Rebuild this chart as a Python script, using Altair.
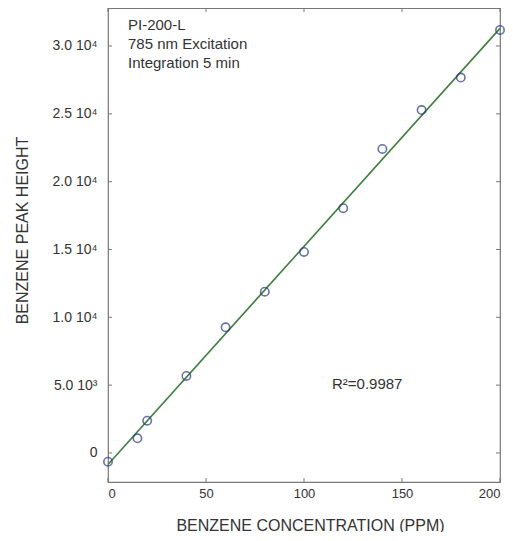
import altair as alt
import pandas as pd

conc = [0, 15, 20, 40, 60, 80, 100, 120, 140, 160, 180, 200]
peak = [-640, 1080, 2380, 5680, 9260, 11890, 14820, 18040, 22410, 25280, 27670, 31180]
x_ticks = [0, 50, 100, 150, 200]
y_ticks = [0, 5000, 10000, 15000, 20000, 25000, 30000]
notes = ["PI-200-L", "785 nm Excitation", "Integration 5 min"]
r2_text = "R\u00b2=0.9987"

FONT = "Arial, Liberation Sans, sans-serif"
W, H = 392, 474

df = pd.DataFrame({"conc": conc, "peak": peak})
xt = pd.DataFrame({"v": x_ticks})
yt = pd.DataFrame({"v": y_ticks})

xs = alt.Scale(domain=[0, 200], nice=False, zero=False)
ys = alt.Scale(domain=[-2140, 32800], nice=False, zero=False)

y_label_expr = ("datum.value == 0 ? '0' : (datum.value < 10000 ? "
                "format(datum.value/1000, '.1f') + ' 10\u00b3' : "
                "format(datum.value/10000, '.1f') + ' 10\u2074')")

x_axis = alt.Axis(values=x_ticks, grid=False, ticks=False, domain=False,
                  labelPadding=5, labelFontSize=13, labelColor="#333",
                  labelFont=FONT, title="BENZENE CONCENTRATION (PPM)",
                  titleFont=FONT, titleFontSize=16, titleFontWeight="normal",
                  titleColor="#333", titleX=202, titleY=43,
                  titleBaseline="middle", titleAlign="center")
y_axis = alt.Axis(values=y_ticks, grid=False, ticks=False, domain=False,
                  labelPadding=11, labelFontSize=14, labelColor="#333",
                  labelFont=FONT, labelExpr=y_label_expr,
                  title="BENZENE PEAK HEIGHT", titleFont=FONT,
                  titleFontSize=16, titleFontWeight="normal", titleColor="#333",
                  titleAngle=-90, titleX=-86, titleY=222,
                  titleBaseline="middle", titleAlign="center")

base = alt.Chart(df)

fit = base.transform_regression("conc", "peak", extent=[0, 200]).mark_line(
    color="#3f7f3f", strokeWidth=1.6
).encode(x=alt.X("conc:Q", scale=xs, axis=x_axis),
         y=alt.Y("peak:Q", scale=ys, axis=y_axis))

pts = base.mark_point(shape="circle", filled=False, size=70, color="#2a3a80",
                      strokeWidth=1.6).encode(
    x=alt.X("conc:Q", scale=xs), y=alt.Y("peak:Q", scale=ys))

tick_col = "#777"
top_t = alt.Chart(xt).mark_rule(color=tick_col).encode(
    x=alt.X("v:Q", scale=xs), y=alt.value(0), y2=alt.value(4))
bot_t = alt.Chart(xt).mark_rule(color=tick_col).encode(
    x=alt.X("v:Q", scale=xs), y=alt.value(H), y2=alt.value(H - 4))
left_t = alt.Chart(yt).mark_rule(color=tick_col).encode(
    y=alt.Y("v:Q", scale=ys), x=alt.value(0), x2=alt.value(4))
right_t = alt.Chart(yt).mark_rule(color=tick_col).encode(
    y=alt.Y("v:Q", scale=ys), x=alt.value(W), x2=alt.value(W - 4))

note_layers = []
for i, t in enumerate(notes):
    note_layers.append(
        alt.Chart(pd.DataFrame({"t": [t]})).mark_text(
            align="left", baseline="middle", fontSize=15, font=FONT, color="#333"
        ).encode(x=alt.value(20), y=alt.value(17 + 19 * i), text="t:N"))

r2 = alt.Chart(pd.DataFrame({"t": [r2_text]})).mark_text(
    align="left", baseline="middle", fontSize=15, font=FONT, color="#333"
).encode(x=alt.value(224), y=alt.value(376), text="t:N")

chart = alt.layer(fit, pts, top_t, bot_t, left_t, right_t, *note_layers, r2).properties(
    width=W, height=H,
    autosize=alt.AutoSizeParams(type="none"),
    padding={"left": 100, "top": 0, "right": 5, "bottom": 50},
    background="white",
).configure_view(stroke="#777", strokeWidth=1.2)

chart.save("out.html", embed_options={"renderer": "svg", "actions": False})
